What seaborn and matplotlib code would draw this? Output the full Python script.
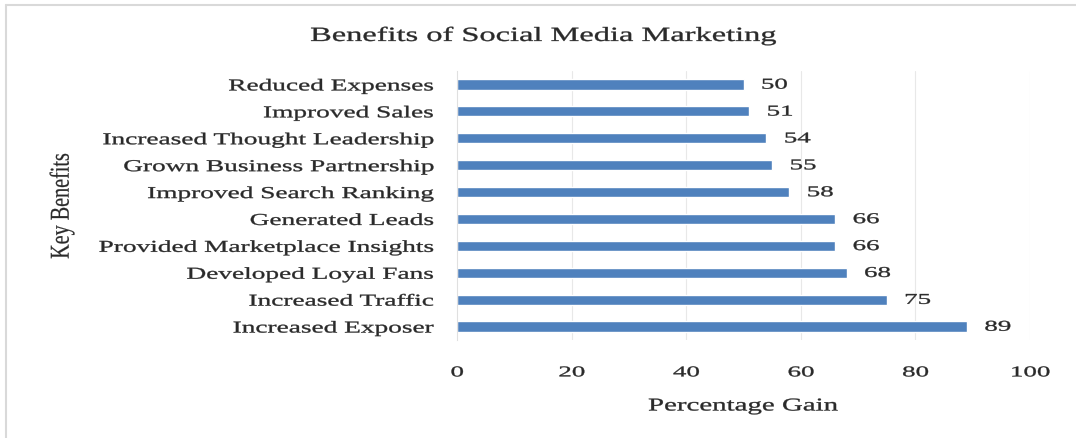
import matplotlib
matplotlib.use("Agg")
import matplotlib.pyplot as plt
import seaborn as sns
import pandas as pd
from matplotlib.lines import Line2D
from matplotlib.patheffects import AbstractPathEffect
from matplotlib.transforms import Affine2D

benefits = [
    "Reduced Expenses",
    "Improved Sales",
    "Increased Thought Leadership",
    "Grown Business Partnership",
    "Improved Search Ranking",
    "Generated Leads",
    "Provided Marketplace Insights",
    "Developed Loyal Fans",
    "Increased Traffic",
    "Increased Exposer",
]
gains = [50, 51, 54, 55, 58, 66, 66, 68, 75, 89]
x_ticks = [0, 20, 40, 60, 80, 100]


class StretchX(AbstractPathEffect):
    """Widen glyphs horizontally around a chosen anchor and give them a light stroke."""

    def __init__(self, sx, anchor="left", stroke=0.25):
        super().__init__()
        self.sx = sx
        self.anchor = anchor
        self.stroke = stroke

    def draw_path(self, renderer, gc, tpath, affine, rgbFace=None):
        verts = affine.transform(tpath.vertices)
        if len(verts) == 0:
            return
        x0, x1 = verts[:, 0].min(), verts[:, 0].max()
        xa = {"left": x0, "center": 0.5 * (x0 + x1), "right": x1}[self.anchor]
        tr = affine + Affine2D().translate(-xa, 0).scale(self.sx, 1).translate(xa, 0)
        gc0 = renderer.new_gc()
        gc0.copy_properties(gc)
        if self.stroke and rgbFace is not None:
            gc0.set_linewidth(self.stroke)
            gc0.set_foreground(rgbFace)
        renderer.draw_path(gc0, tpath, tr, rgbFace)
        gc0.restore()


df = pd.DataFrame({"Benefit": benefits, "Gain": gains})

sns.set_theme(style="white")
plt.rcParams["font.family"] = ["Liberation Serif", "DejaVu Serif"]

text_color = "#2a2a2a"

fig = plt.figure(figsize=(10.76, 4.39), dpi=100)
ax = fig.add_axes([457 / 1076, 1 - 341 / 439, (1030 - 457) / 1076, (341 - 72) / 439])

sns.barplot(data=df, x="Gain", y="Benefit", color="#4F81BD", saturation=1,
            width=0.38, orient="h", ax=ax)

ax.set_xlim(0, 100)
ax.set_xticks(x_ticks)
ax.set_xticklabels([str(t) for t in x_ticks], fontsize=10.8, color=text_color)
ax.tick_params(axis="x", length=0, pad=19)
ax.tick_params(axis="y", length=0, pad=17, labelsize=12, labelcolor=text_color)
for lbl in ax.get_yticklabels():
    lbl.set_path_effects([StretchX(1.64, "right")])
for lbl in ax.get_xticklabels():
    lbl.set_path_effects([StretchX(1.8, "center")])

for t in x_ticks[1:]:
    ax.axvline(t, color="#E8E8E8", lw=0.8, zorder=0)
for s in ["top", "right", "bottom"]:
    ax.spines[s].set_visible(False)
ax.spines["left"].set_color("#E0E0E0")
ax.spines["left"].set_linewidth(0.8)

for i, v in enumerate(gains):
    ax.annotate(str(v), xy=(v, i), xytext=(12.5, -0.5), textcoords="offset points",
                ha="left", va="center", fontsize=10.8, color=text_color,
                path_effects=[StretchX(1.8, "left")])

ax.set_xlabel("")
ax.set_ylabel("")
fig.text(743 / 1076, 1 - 407 / 439, "Percentage Gain", ha="center", va="center",
         fontsize=13, color=text_color, path_effects=[StretchX(1.6, "center")])
fig.text(62 / 1076, 1 - 207 / 439, "Key Benefits", ha="center", va="center",
         rotation=90, fontsize=14.5, color=text_color,
         path_effects=[StretchX(1.35, "center", stroke=0.15)])

fig.text(543 / 1076, 1 - 37 / 439, "Benefits of Social Media Marketing",
         ha="center", va="center", fontsize=14.5, color=text_color,
         path_effects=[StretchX(1.61, "center")])

# light outer frame along the top and left edges
fig.add_artist(Line2D([6 / 1076, 1], [1 - 6 / 439, 1 - 6 / 439],
                      transform=fig.transFigure, color="#D9D9D9", lw=1.5))
fig.add_artist(Line2D([6 / 1076, 6 / 1076], [0, 1 - 6 / 439],
                      transform=fig.transFigure, color="#D9D9D9", lw=1.5))

fig.savefig("out.png", dpi=100, facecolor="white")
